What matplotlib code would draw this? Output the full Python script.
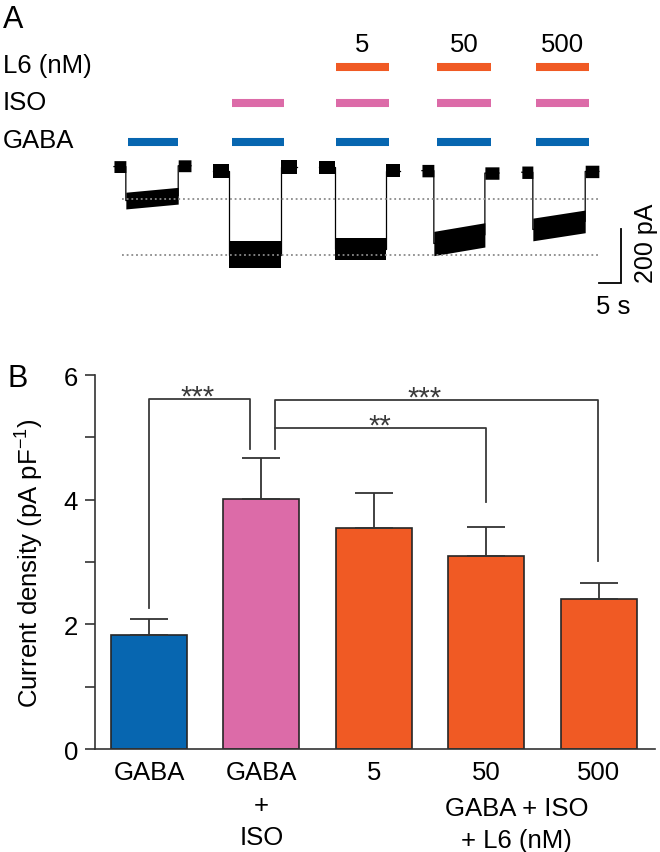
import numpy as np
import matplotlib
matplotlib.use('Agg')
import matplotlib.pyplot as plt

plt.rcParams['font.family'] = ['Liberation Sans', 'DejaVu Sans']
plt.rcParams['mathtext.fontset'] = 'custom'
plt.rcParams['mathtext.rm'] = 'Liberation Sans'
plt.rcParams['mathtext.it'] = 'Liberation Sans:italic'
plt.rcParams['mathtext.default'] = 'regular'

# Data
## Panel A: whole-cell traces (time in s, current in pA)
sweep_start = [25.9, 48.4, 72.5, 95.9, 118.6]
sweep_end = [43.4, 67.5, 90.9, 113.4, 136.1]
step_on = [28.6, 52.0, 76.1, 98.6, 121.1]
step_off = [40.5, 63.9, 87.7, 110.2, 133.0]
base_pA = [9, -6, 6, -6, -12]
post_pA = [12, 8, -6, -15, -9]
plateau_first_pA = [-117, -318, -296, -276, -224]
plateau_last_pA = [-99, -318, -296, -244, -194]
noise_base_pA = [22, 26, 23, 23, 23]
noise_plateau_pA = [31, 50, 40, 45, 42]
ref_levels_pA = [-111, -318]

gaba_on = [29.1, 52.7, 76.4, 99.3, 121.8]
gaba_off = [40.5, 64.5, 88.4, 111.6, 133.9]
iso_sweeps = [1, 2, 3, 4]
l6_sweeps = [2, 3, 4]
l6_conc = ['5', '50', '500']

## Panel B: current density
groups = ['GABA', 'GABA\n+\nISO', '5', '50', '500']
density = [1.83, 4.01, 3.54, 3.09, 2.40]
density_sem = [0.25, 0.66, 0.56, 0.47, 0.27]

# Colours
blue = '#0766b0'
pink = '#dc6ba8'
orange = '#f05a24'
bar_colors = [blue, pink, orange, orange, orange]

W, H = 660, 853
fs = 18.5
fig = plt.figure(figsize=(W / 100, H / 100), dpi=100)


def fy(py):
    return 1 - py / H


# ---------------- Panel A ----------------
ax_a = fig.add_axes([0, fy(330), 1, 330 / H])
ax_a.set_xlim(0, 150)
ax_a.set_ylim(-592.6, 629.6)
ax_a.axis('off')

for i in range(5):
    t = [sweep_start[i], step_on[i], step_on[i], step_off[i], step_off[i], sweep_end[i]]
    c = np.array([base_pA[i], base_pA[i], plateau_first_pA[i], plateau_last_pA[i],
                  post_pA[i], post_pA[i]])
    h = np.array([noise_base_pA[i], noise_base_pA[i], noise_plateau_pA[i],
                  noise_plateau_pA[i], noise_base_pA[i], noise_base_pA[i]])
    ax_a.fill_between(t, c - h, c + h, color='black', lw=0)
    ax_a.plot(t, c, color='black', lw=0.9)

for lvl in ref_levels_pA:
    ax_a.plot([step_on[0] - 0.9, sweep_end[-1]], [lvl, lvl], color='#8a8a8a',
              lw=1.3, ls=(0, (1, 1.6)), zorder=3)

# drug application bars
xt = ax_a.get_xaxis_transform()
bar_lw = 5.8
for i in range(5):
    ax_a.plot([gaba_on[i], gaba_off[i]], [0.567, 0.567], color=blue, lw=bar_lw,
              transform=xt, solid_capstyle='butt')
for i in iso_sweeps:
    ax_a.plot([gaba_on[i], gaba_off[i]], [0.685, 0.685], color=pink, lw=bar_lw,
              transform=xt, solid_capstyle='butt')
for i, lab in zip(l6_sweeps, l6_conc):
    ax_a.plot([gaba_on[i], gaba_off[i]], [0.794, 0.794], color=orange, lw=bar_lw,
              transform=xt, solid_capstyle='butt')
    ax_a.text((gaba_on[i] + gaba_off[i]) / 2, 0.843, lab, transform=xt,
              ha='center', va='baseline', fontsize=fs)

# scale bar
sx = 141.1
ax_a.plot([sx - 5, sx, sx], [-422, -422, -222], color='black', lw=1.3,
          solid_joinstyle='miter')
ax_a.text(146.9, -272, '200 pA', rotation=90, ha='center', va='center', fontsize=18)
ax_a.text(sx - 1.8, -507, '5 s', ha='center', va='center', fontsize=fs)

fig.text(3 / W, fy(28.5), 'A', fontsize=22, ha='left', va='baseline')
fig.text(3 / W, fy(73), 'L6 (nM)', fontsize=fs, ha='left', va='baseline')
fig.text(3 / W, fy(110), 'ISO', fontsize=fs, ha='left', va='baseline')
fig.text(3 / W, fy(148), 'GABA', fontsize=fs, ha='left', va='baseline')

# ---------------- Panel B ----------------
ax_b = fig.add_axes([95 / W, fy(750), 560 / W, 374 / H])
x = np.arange(len(groups))
ax_b.bar(x, density, width=0.676, color=bar_colors, edgecolor='#262626', linewidth=1.2,
         yerr=[[0] * len(x), density_sem], capsize=13.5,
         error_kw=dict(ecolor='#333333', elinewidth=1.3, capthick=1.3))
ax_b.set_xlim(-0.48, 4.502)
ax_b.set_ylim(0, 6)
ax_b.set_yticks([0, 2, 4, 6])
ax_b.set_yticks([1, 3, 5], minor=True)
ax_b.set_xticks(x)
ax_b.set_xticklabels(groups, linespacing=1.45)
ax_b.tick_params(axis='y', which='both', direction='out', length=7.2, width=1.2,
                 color='#333333', labelsize=fs, pad=5)
ax_b.tick_params(axis='x', length=0, labelsize=fs, pad=8)
for side in ['top', 'right']:
    ax_b.spines[side].set_visible(False)
for side in ['left', 'bottom']:
    ax_b.spines[side].set_linewidth(1.2)
    ax_b.spines[side].set_color('#333333')
ax_b.set_ylabel('Current density (pA pF$^{-1}$)', fontsize=fs)
ax_b.yaxis.set_label_coords(-0.087, 0.5)

ax_b.text(3.27, -0.125, 'GABA + ISO\n+ L6 (nM)', transform=ax_b.get_xaxis_transform(),
          ha='center', va='top', fontsize=fs, linespacing=1.45)

# significance brackets
line_kw = dict(color='#3a3a3a', lw=1.3, clip_on=False)
ax_b.plot([0, 0, 0.899, 0.899], [2.26, 5.62, 5.62, 4.82], **line_kw)
ax_b.plot([1.121, 1.121, 3.995, 3.995], [4.82, 5.60, 5.60, 3.01], **line_kw)
ax_b.plot([1.121, 2.998, 2.998], [5.15, 5.15, 3.96], **line_kw)
ax_b.text(0.43, 5.66, '***', ha='center', va='center', fontsize=21, color='#3a3a3a')
ax_b.text(2.45, 5.64, '***', ha='center', va='center', fontsize=21, color='#3a3a3a')
ax_b.text(2.05, 5.19, '**', ha='center', va='center', fontsize=21, color='#3a3a3a')

fig.text(8 / W, fy(387), 'B', fontsize=22, ha='left', va='baseline')

fig.savefig('out.png', dpi=100)
